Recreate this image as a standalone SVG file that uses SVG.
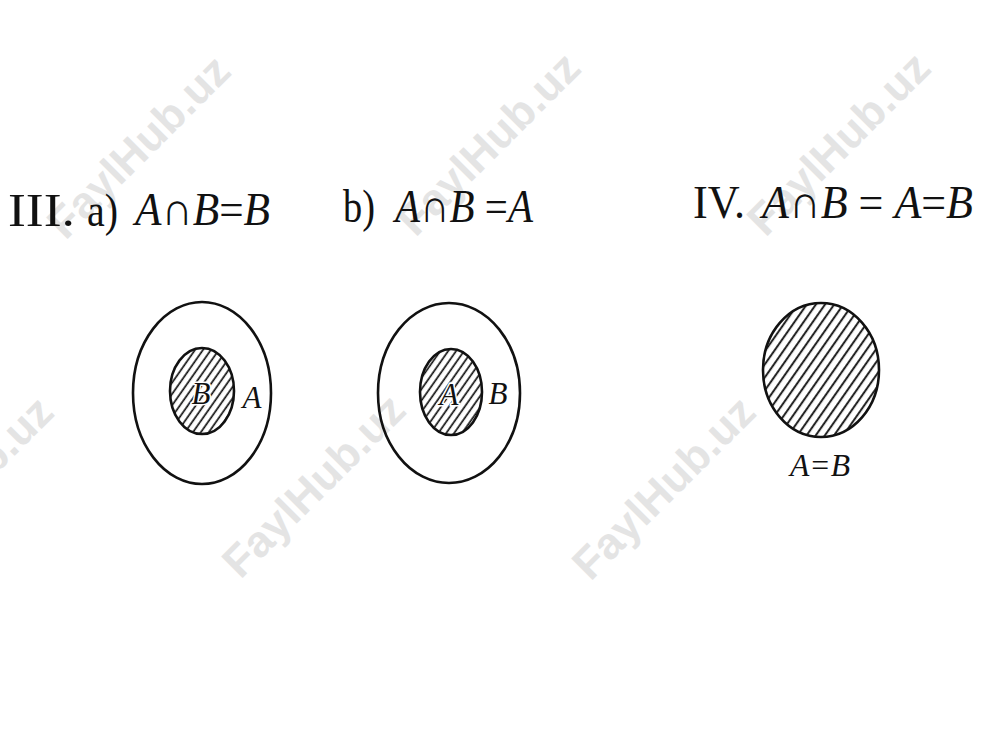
<svg xmlns="http://www.w3.org/2000/svg" width="1000" height="750" viewBox="0 0 1000 750">
  <style>
    .title { font-family: "Liberation Serif", "DejaVu Serif", serif; font-size: 47px; fill: #111; }
    .it { font-style: italic; }
    .lbl { font-family: "Liberation Serif", "DejaVu Serif", serif; font-style: italic; font-size: 31px; fill: #111; }
    .inlbl { paint-order: stroke; stroke: #fff; stroke-width: 3px; }
    .set { fill: none; stroke: #111; stroke-width: 2.6; }
    .wm { font-family: "Liberation Sans", Arial, sans-serif; font-weight: bold; font-size: 44px; fill: #e4e4e4; }
  </style>
  <defs>
    <pattern id="hatch" width="6.5" height="10" patternUnits="userSpaceOnUse" patternTransform="rotate(35)">
      <line x1="3" y1="0" x2="3" y2="10" stroke="#111" stroke-width="1.7"/>
    </pattern>
    <pattern id="hatch4" width="7.5" height="10" patternUnits="userSpaceOnUse" patternTransform="rotate(35)">
      <line x1="3" y1="0" x2="3" y2="10" stroke="#111" stroke-width="1.9"/>
    </pattern>
  </defs>
  <rect width="1000" height="750" fill="#fff"/>

  <!-- watermarks -->
  <g id="watermarks">
    <text class="wm" transform="translate(141,149) rotate(-45)" text-anchor="middle" dominant-baseline="middle" textLength="237" lengthAdjust="spacingAndGlyphs">FaylHub.uz</text>
    <text class="wm" transform="translate(491,146) rotate(-45)" text-anchor="middle" dominant-baseline="middle" textLength="237" lengthAdjust="spacingAndGlyphs">FaylHub.uz</text>
    <text class="wm" transform="translate(841,146) rotate(-45)" text-anchor="middle" dominant-baseline="middle" textLength="237" lengthAdjust="spacingAndGlyphs">FaylHub.uz</text>
    <text class="wm" transform="translate(-36,490) rotate(-45)" text-anchor="middle" dominant-baseline="middle" textLength="237" lengthAdjust="spacingAndGlyphs">FaylHub.uz</text>
    <text class="wm" transform="translate(316,488) rotate(-45)" text-anchor="middle" dominant-baseline="middle" textLength="237" lengthAdjust="spacingAndGlyphs">FaylHub.uz</text>
    <text class="wm" transform="translate(666,490) rotate(-45)" text-anchor="middle" dominant-baseline="middle" textLength="237" lengthAdjust="spacingAndGlyphs">FaylHub.uz</text>
  </g>

  <!-- titles -->
  <g id="titles">
    <text class="title" x="8" y="226" textLength="67" lengthAdjust="spacingAndGlyphs">III.</text>
    <text class="title" x="87" y="226" textLength="31" lengthAdjust="spacingAndGlyphs">a)</text>
    <text class="title" x="135" y="225" textLength="135" lengthAdjust="spacingAndGlyphs"><tspan class="it">A</tspan>∩<tspan class="it">B</tspan>=<tspan class="it">B</tspan></text>
    <text class="title" x="343" y="222" textLength="32" lengthAdjust="spacingAndGlyphs">b)</text>
    <text class="title" x="395" y="222" textLength="138" lengthAdjust="spacingAndGlyphs"><tspan class="it">A</tspan>∩<tspan class="it">B</tspan> =<tspan class="it">A</tspan></text>
    <text class="title" x="693" y="218" textLength="52" lengthAdjust="spacingAndGlyphs">IV.</text>
    <text class="title" x="762" y="218" textLength="211" lengthAdjust="spacingAndGlyphs"><tspan class="it">A</tspan>∩<tspan class="it">B</tspan> = <tspan class="it">A</tspan>=<tspan class="it">B</tspan></text>
  </g>

  <!-- figure a -->
  <g id="fig-a">
    <ellipse class="set" cx="202" cy="393" rx="69" ry="91"/>
    <ellipse cx="202" cy="391" rx="32" ry="43" fill="url(#hatch)" stroke="#111" stroke-width="2.6"/>
    <text class="lbl inlbl" x="201" y="404" text-anchor="middle">B</text>
    <text class="lbl" x="252" y="408" text-anchor="middle">A</text>
  </g>

  <!-- figure b -->
  <g id="fig-b">
    <ellipse class="set" cx="449" cy="393" rx="71" ry="90"/>
    <ellipse cx="451" cy="392" rx="31" ry="43" fill="url(#hatch)" stroke="#111" stroke-width="2.6"/>
    <text class="lbl inlbl" x="449" y="405" text-anchor="middle">A</text>
    <text class="lbl" x="498" y="404" text-anchor="middle">B</text>
  </g>

  <!-- figure IV -->
  <g id="fig-iv">
    <ellipse cx="821" cy="370" rx="58" ry="67" fill="url(#hatch4)" stroke="#111" stroke-width="2.6"/>
    <text class="lbl" x="820" y="476" text-anchor="middle" textLength="60" lengthAdjust="spacingAndGlyphs">A=B</text>
  </g>
</svg>
